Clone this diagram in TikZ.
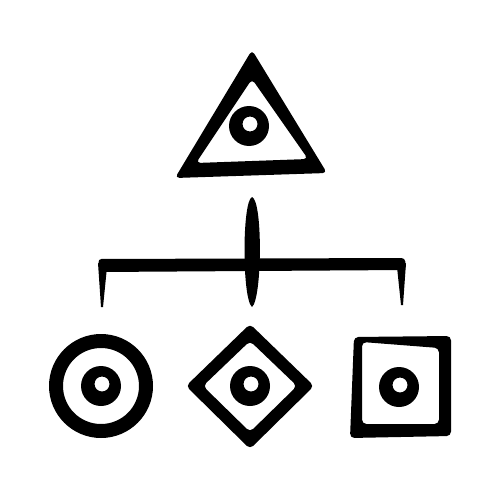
\documentclass[tikz,border=0pt]{standalone}
\usetikzlibrary{calc}
\newcommand\eyering[1]{% centre of the ring
  \fill[ink, even odd rule] (#1) circle (20) ($(#1)+(1,-2)$) circle (7.5);
}
\tikzset{
  ink/.style={black},
  hollow/.style={ink, even odd rule, rounded corners=2.5},
}

\begin{document}
\begin{tikzpicture}[x=0.02cm, y=-0.02cm]
\useasboundingbox (0,0) rectangle (500,500);
\coordinate (eyeT) at (249,126);
\coordinate (eyeC) at (101,386);
\coordinate (eyeD) at (250,386);
\coordinate (eyeS) at (399,387);
%
% triangle
\fill[hollow] (252,50) -- (175,178) -- (327,173) -- cycle
              (252,79) -- (196,163) -- (308,159) -- cycle;
\eyering{eyeT}
%
% tree
\coordinate (stemT) at (252,197);
\coordinate (stemB) at (252,307);
\coordinate (barL) at (98,265);
\coordinate (barR) at (405,265);
\coordinate (dropL) at (102,307);
\coordinate (dropR) at (402,305);
\fill[ink, rounded corners=2] ($(barL)+(0,-6)$) -- ($(barR)+(0,-7)$) -- ($(barR)+(1,5)$) -- ($(barL)+(2,7)$) -- cycle;
\fill[ink] ($(barL)+(0,-2)$) -- ($(barL)+(9,2)$) -- ($(dropL)+(1,0)$) -- ($(dropL)+(-1,0)$) -- cycle;
\fill[ink] ($(barR)+(-8,2)$) -- ($(barR)+(1,-2)$) -- ($(dropR)+(1,0)$) -- ($(dropR)+(-1,0)$) -- cycle;
\fill[ink] (stemT) .. controls ($(stemT)+(11,4)$) and ($(stemB)+(10,-8)$) .. (stemB)
           .. controls ($(stemB)+(-10,-8)$) and ($(stemT)+(-10,4)$) .. (stemT);
%
% circle
\fill[ink, even odd rule] (eyeC) circle (52) ($(eyeC)+(0,0)$) circle (38);
\eyering{eyeC}
%
% diamond
\fill[hollow] (250,324) -- (314,386) -- (250,449) -- (186,386) -- cycle
              (250,341) -- (297,386) -- (250,432) -- (203,386) -- cycle;
\eyering{eyeD}
%
% square
\fill[hollow] (354,337) -- (451,336) -- (451,436) -- (350,438) -- cycle
              (362,342) -- (439,348) -- (439,424) -- (362,424) -- cycle;
\eyering{eyeS}
\end{tikzpicture}
\end{document}
